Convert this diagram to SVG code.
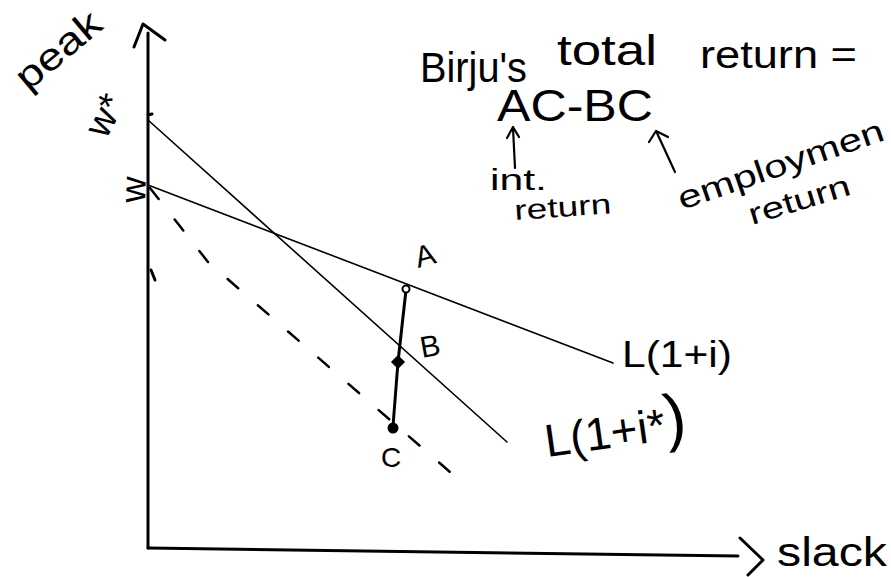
<svg xmlns="http://www.w3.org/2000/svg" width="891" height="577" viewBox="0 0 891 577">
<style>
  .t { font-family: "Liberation Sans", "DejaVu Sans", sans-serif; fill: #000; }
  .ax { stroke: #000; stroke-width: 3; fill: none; stroke-linecap: round; stroke-linejoin: round; }
  .ln { stroke: #000; stroke-width: 1.6; fill: none; stroke-linecap: round; }
  .dash { stroke: #000; stroke-width: 2.5; fill: none; stroke-dasharray: 14 26; stroke-linecap: round; }
  .seg { stroke: #000; stroke-width: 3; fill: none; stroke-linecap: round; }
  .arr { stroke: #000; stroke-width: 2.2; fill: none; stroke-linecap: round; stroke-linejoin: round; }
</style>
<rect width="891" height="577" fill="#fff"/>

<g id="axes">
  <line class="ax" x1="148" y1="33" x2="148" y2="548"/>
  <polyline class="ax" stroke-width="4" points="134,47 143,24 165,40"/>
  <line class="ax" x1="148" y1="548" x2="738" y2="556"/>
  <polyline class="ax" points="740,538 763,560 748,575"/>
  <line class="ax" stroke-width="2" x1="148" y1="115" x2="152" y2="114"/>
  <line class="ax" stroke-width="2" x1="151" y1="270" x2="155" y2="280"/>
</g>

<g id="axis-labels">
  <text class="t" font-size="38" transform="translate(28,92) rotate(-40)" textLength="100" lengthAdjust="spacingAndGlyphs">peak</text>
  <text class="t" font-size="38" transform="translate(106,140) rotate(-62)">w*</text>
  <text class="t" font-size="36" transform="translate(145,203) rotate(-88)">w</text>
  <text class="t" font-size="40" x="777" y="566" textLength="110" lengthAdjust="spacingAndGlyphs">slack</text>
</g>

<g id="connectors">
  <line id="line-wstar" class="ln" x1="148" y1="120" x2="507" y2="442"/>
  <line id="line-w" class="ln" x1="148" y1="185" x2="613" y2="363"/>
  <path id="line-dashed" class="dash" d="M150,188 L208,262 L450,472"/>
  <polyline id="seg-ABC" class="seg" points="406,290 398,362 393,426"/>
</g>

<g id="point-A">
  <circle cx="406" cy="289" r="3.5" fill="#fff" stroke="#000" stroke-width="2"/>
  <text class="t" font-size="30" transform="translate(418,268) rotate(-15)">A</text>
</g>
<g id="point-B">
  <rect x="393" y="357" width="10" height="10" fill="#000" transform="rotate(45 398 362)"/>
  <text class="t" font-size="30" transform="translate(422,358) rotate(-10)">B</text>
</g>
<g id="point-C">
  <circle cx="393" cy="428" r="5.5" fill="#000"/>
  <text class="t" font-size="28" x="381" y="467">C</text>
</g>

<g id="label-L1i">
  <text class="t" font-size="36" x="622" y="367" textLength="110" lengthAdjust="spacingAndGlyphs">L(1+i)</text>
</g>
<g id="label-L1istar">
  <text class="t" font-size="46" transform="translate(547,457) rotate(-8)">L(1+i*<tspan font-size="64">)</tspan></text>
</g>

<g id="title">
  <text class="t" font-size="42" x="420" y="82" textLength="107" lengthAdjust="spacingAndGlyphs">Birju's</text>
  <text class="t" font-size="42" x="557" y="65" textLength="100" lengthAdjust="spacingAndGlyphs">total</text>
  <text class="t" font-size="38" x="700" y="68" textLength="157" lengthAdjust="spacingAndGlyphs">return =</text>
  <text class="t" font-size="44" x="497" y="121" textLength="156" lengthAdjust="spacingAndGlyphs">AC-BC</text>
</g>

<g id="annotations">
  <line class="arr" x1="515" y1="168" x2="513" y2="128"/>
  <polyline class="arr" points="507,138 513,127 519,137"/>
  <line class="arr" x1="675" y1="172" x2="657" y2="133" stroke-width="3"/>
  <polyline class="arr" stroke-width="3" points="649,142 656,131 668,137"/>
  <text class="t" font-size="30" x="490" y="190" textLength="57" lengthAdjust="spacingAndGlyphs">int.</text>
  <text class="t" font-size="28" transform="translate(515,220) rotate(-4)" textLength="97" lengthAdjust="spacingAndGlyphs">return</text>
  <text class="t" font-size="32" transform="translate(682,210) rotate(-19)" textLength="216" lengthAdjust="spacingAndGlyphs">employmen</text>
  <text class="t" font-size="30" transform="translate(752,225) rotate(-17)" textLength="105" lengthAdjust="spacingAndGlyphs">return</text>
</g>
</svg>
